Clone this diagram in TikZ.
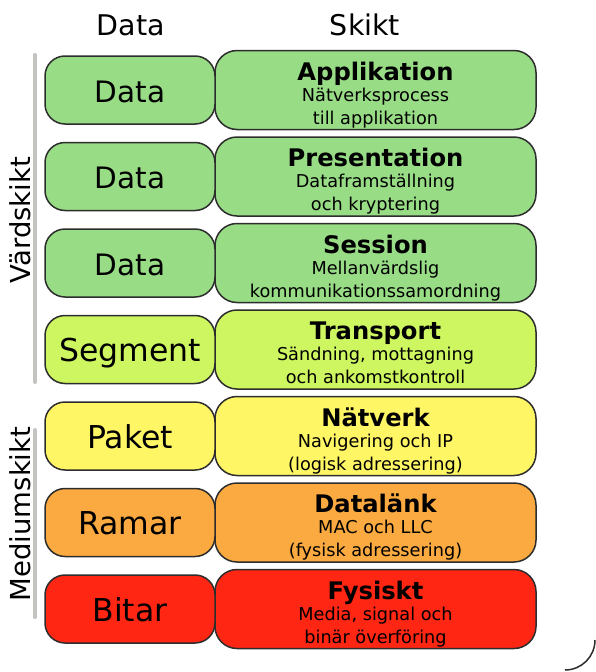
\documentclass[tikz,border=0pt]{standalone}
\usepackage{fontspec}
\setmainfont{DejaVu Sans}
\usetikzlibrary{positioning}

\definecolor{boxline}{RGB}{45,45,45}
\definecolor{bargray}{RGB}{195,195,192}
\definecolor{hostgreen}{RGB}{152,220,134}
\definecolor{transgreen}{RGB}{206,246,96}
\definecolor{netyellow}{RGB}{255,246,102}
\definecolor{linkorange}{RGB}{250,170,64}
\definecolor{physred}{RGB}{255,38,20}

\tikzset{
  databox/.style={draw=boxline, line width=1.5pt, rounded corners=20pt,
    minimum width=170pt, minimum height=68pt, inner sep=0pt,
    text height=24pt, text depth=0pt},
  layerbox/.style={draw=boxline, line width=1.5pt, rounded corners=22pt,
    minimum width=321pt, minimum height=79pt, inner sep=0pt},
  layertitle/.style={anchor=base, inner sep=0pt,
    font=\bfseries\fontsize{24.2}{28}\selectfont},
  layersub/.style={anchor=base, inner sep=0pt,
    font=\fontsize{17.7}{21}\selectfont},
  headtext/.style={anchor=base, inner sep=0pt,
    font=\fontsize{28.5}{33}\selectfont},
  sidetext/.style={rotate=90, inner sep=0pt,
    font=\fontsize{27.5}{32}\selectfont},
  sidebar/.style={draw=bargray, line width=4pt, line cap=round},
}

\begin{document}
\begin{tikzpicture}[x=1pt, y=-1pt]
  \useasboundingbox (0,0) rectangle (596,672);

  % column heads
  \node[headtext] (hdata) at (131,35) {Data};
  \node[headtext] (hlayer) at (365,35) {Skikt};

  % layers
  \foreach \y/\col/\fs/\dat/\tit/\la/\lb [count=\i] in {
      90/hostgreen/29.5/Data/Applikation/Nätverksprocess/till applikation,
      176.5/hostgreen/29.5/Data/Presentation/Dataframställning/och kryptering,
      263/hostgreen/29.5/Data/Session/Mellanvärdslig/kommunikationssamordning,
      349.5/transgreen/31.5/Segment/Transport/{Sändning, mottagning}/och ankomstkontroll,
      436/netyellow/31.5/Paket/Nätverk/Navigering och IP/(logisk adressering),
      522.5/linkorange/31.5/Ramar/Datalänk/MAC och LLC/(fysisk adressering),
      609/physred/31.5/Bitar/Fysiskt/{Media, signal och}/binär överföring}
  {
    \node[layerbox, fill=\col] (s\i) at (375.5,\y) {};
    \node[databox, fill=\col, font=\fontsize{\fs}{\fs}\selectfont] (d\i) at (130,\y) {\dat};
    \node[layertitle] (t\i) at ([yshift=10pt]s\i.center) {\tit};
    \node[layersub] (a\i) at ([yshift=-11pt]s\i.center) {\la};
    \node[layersub] (b\i) at ([yshift=-34pt]s\i.center) {\lb};
  }

  % side groups
  \draw[sidebar] (35,55) -- (35,382);
  \draw[sidebar] (35,430) -- (35,617);
  \node[sidetext] (host) at (20,220) {Värdskikt};
  \node[sidetext] (media) at (20,514) {Mediumskikt};

  % frame corner
  \draw[boxline, line width=1.5pt] (595,640) arc[start angle=0, end angle=90, radius=30];
\end{tikzpicture}
\end{document}
